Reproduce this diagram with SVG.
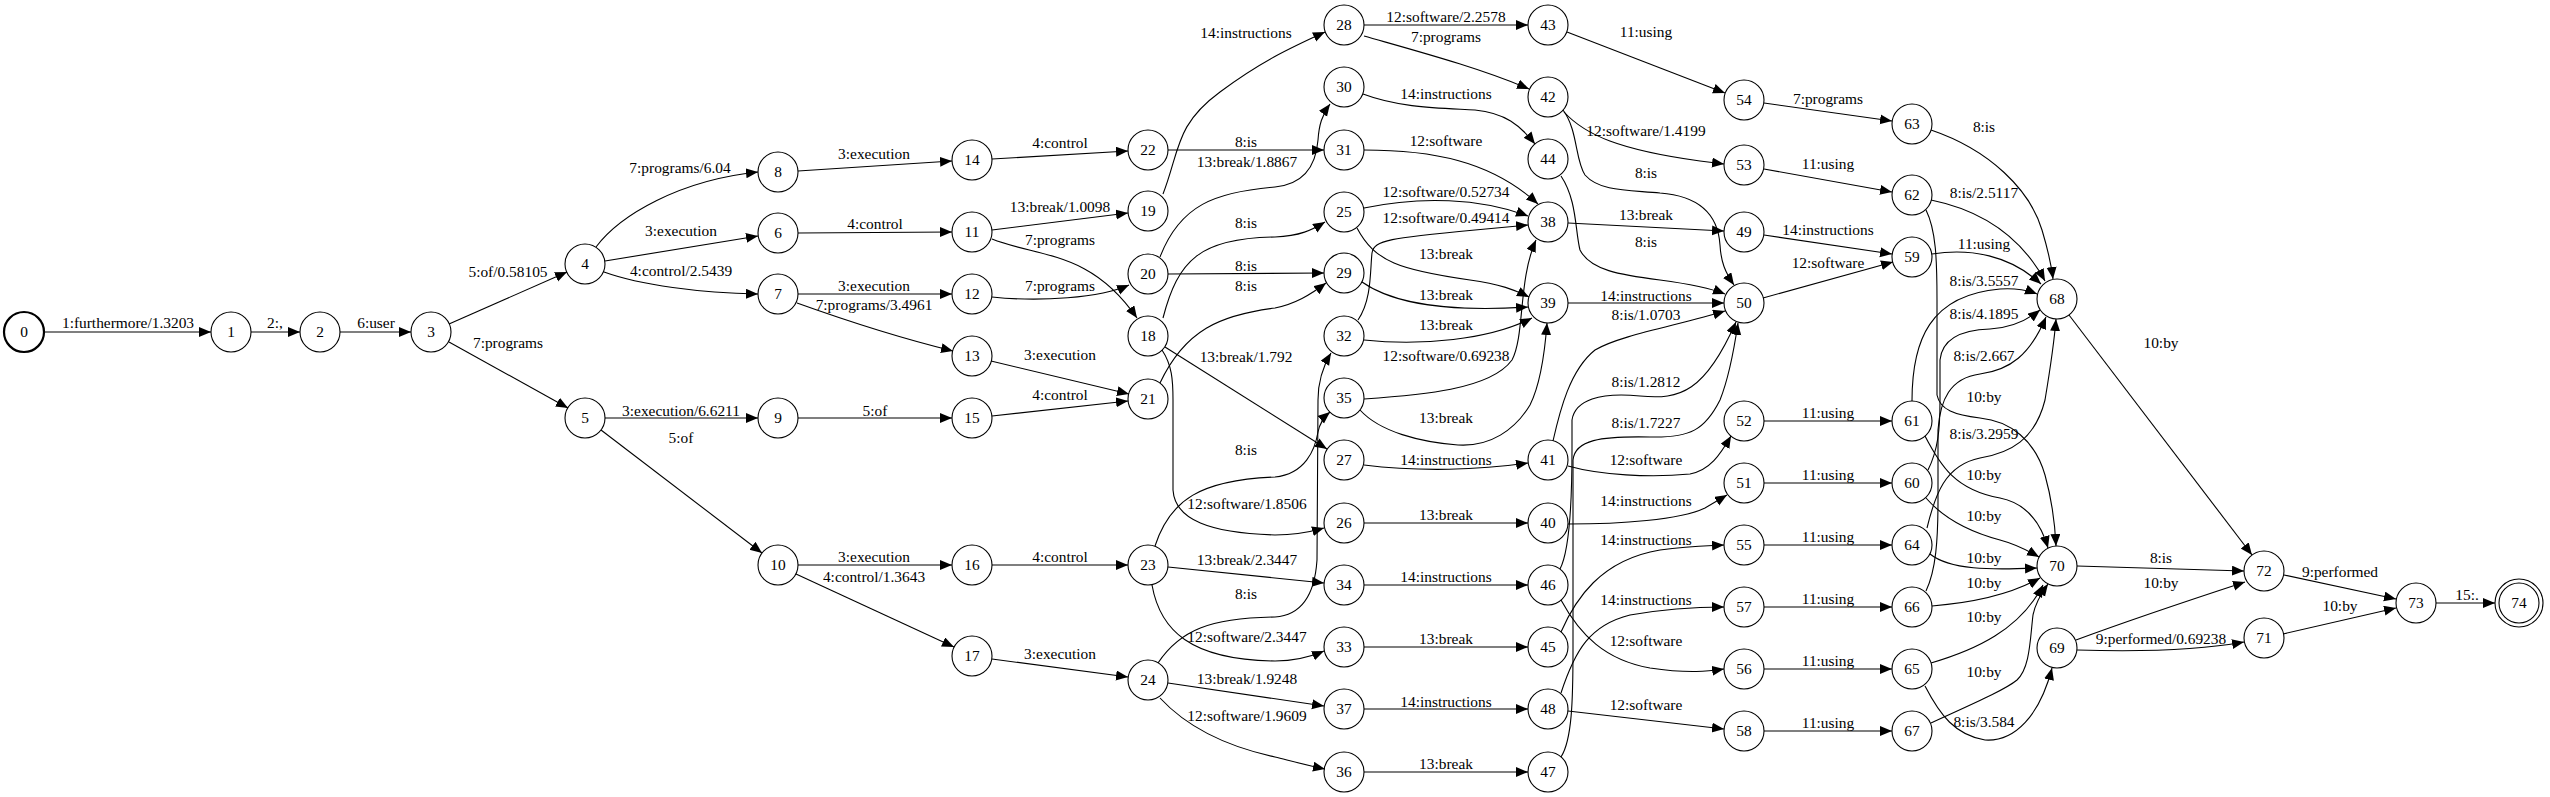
<svg xmlns="http://www.w3.org/2000/svg" width="2550" height="797" viewBox="0 0 2550 797">
<style>
.node circle{fill:none;stroke:#000;stroke-width:1.1}
.node text,.edge text{font-family:"Liberation Serif","Times New Roman",serif;font-size:15.4px;text-anchor:middle;fill:#000}
.edge path{fill:none;stroke:#000;stroke-width:1.1;marker-end:url(#ah)}
</style>
<defs>
<marker id="ah" markerUnits="userSpaceOnUse" markerWidth="13" markerHeight="11" refX="12" refY="5" orient="auto">
<path d="M0,0 L12,5 L0,10 z" fill="#000"/>
</marker>
</defs>
<rect width="2550" height="797" fill="#fff"/>
<g id="edges">
<g class="edge"><path d="M44,332 L211,332"/><text x="128" y="328">1:furthermore/1.3203</text></g>
<g class="edge"><path d="M251,332 L300,332"/><text x="275" y="328">2:,</text></g>
<g class="edge"><path d="M340,332 L411,332"/><text x="376" y="328">6:user</text></g>
<g class="edge"><path d="M449,324 L567,272"/><text x="508" y="277">5:of/0.58105</text></g>
<g class="edge"><path d="M449,342 L568,408"/><text x="508" y="348">7:programs</text></g>
<g class="edge"><path d="M596,247 C620,215 680,180 758,172"/><text x="680" y="173">7:programs/6.04</text></g>
<g class="edge"><path d="M605,261 L758,236"/><text x="681" y="236">3:execution</text></g>
<g class="edge"><path d="M604,272 C640,285 700,293 758,294"/><text x="681" y="276">4:control/2.5439</text></g>
<g class="edge"><path d="M605,418 L758,418"/><text x="681" y="416">3:execution/6.6211</text></g>
<g class="edge"><path d="M601,430 L762,553"/><text x="681" y="443">5:of</text></g>
<g class="edge"><path d="M798,171 L952,161"/><text x="874" y="159">3:execution</text></g>
<g class="edge"><path d="M798,233 L952,232"/><text x="875" y="229">4:control</text></g>
<g class="edge"><path d="M798,294 L952,294"/><text x="874" y="291">3:execution</text></g>
<g class="edge"><path d="M797,303 C850,322 900,338 953,351"/><text x="874" y="310">7:programs/3.4961</text></g>
<g class="edge"><path d="M798,418 L952,418"/><text x="875" y="416">5:of</text></g>
<g class="edge"><path d="M798,565 L952,565"/><text x="874" y="562">3:execution</text></g>
<g class="edge"><path d="M796,574 L954,647"/><text x="874" y="582">4:control/1.3643</text></g>
<g class="edge"><path d="M992,159 L1128,151"/><text x="1060" y="148">4:control</text></g>
<g class="edge"><path d="M992,230 L1128,213"/><text x="1060" y="212">13:break/1.0098</text></g>
<g class="edge"><path d="M992,239 C1040,258 1090,250 1137,318"/><text x="1060" y="245">7:programs</text></g>
<g class="edge"><path d="M992,297 C1040,302 1100,298 1129,285"/><text x="1060" y="291">7:programs</text></g>
<g class="edge"><path d="M991,361 L1129,394"/><text x="1060" y="360">3:execution</text></g>
<g class="edge"><path d="M992,416 L1128,401"/><text x="1060" y="400">4:control</text></g>
<g class="edge"><path d="M992,565 L1128,565"/><text x="1060" y="562">4:control</text></g>
<g class="edge"><path d="M992,659 L1128,677"/><text x="1060" y="659">3:execution</text></g>
<g class="edge"><path d="M1163,194 C1180,150 1175,125 1220,92 C1260,62 1290,48 1325,32"/><text x="1246" y="38">14:instructions</text></g>
<g class="edge"><path d="M1168,150 L1324,150"/><text x="1246" y="147">8:is</text></g>
<g class="edge"><path d="M1160,257 C1180,205 1215,192 1275,187 C1305,184 1316,165 1318,140 C1319,125 1322,115 1330,104"/><text x="1247" y="167">13:break/1.8867</text></g>
<g class="edge"><path d="M1163,318 C1178,260 1200,238 1275,237 C1300,236 1312,230 1325,222"/><text x="1246" y="228">8:is</text></g>
<g class="edge"><path d="M1168,274 L1324,273"/><text x="1246" y="271">8:is</text></g>
<g class="edge"><path d="M1160,383 C1185,330 1220,315 1275,308 C1295,304 1310,295 1326,283"/><text x="1246" y="291">8:is</text></g>
<g class="edge"><path d="M1165,347 L1327,449"/><text x="1246" y="362">13:break/1.792</text></g>
<g class="edge"><path d="M1162,350 C1172,365 1173,380 1173,400 L1173,490 C1175,520 1210,533 1275,535 C1295,535 1310,532 1324,528"/><text x="1247" y="509">12:software/1.8506</text></g>
<g class="edge"><path d="M1155,546 C1170,500 1200,480 1275,477 C1305,474 1315,450 1318,432 C1320,422 1324,417 1330,412"/><text x="1246" y="455">8:is</text></g>
<g class="edge"><path d="M1168,567 L1324,583"/><text x="1247" y="565">13:break/2.3447</text></g>
<g class="edge"><path d="M1152,585 C1160,630 1190,660 1275,661 C1295,661 1310,657 1324,651"/><text x="1247" y="642">12:software/2.3447</text></g>
<g class="edge"><path d="M1158,663 C1180,630 1210,618 1275,617 C1305,615 1315,590 1317,560 L1318,400 C1318,385 1322,368 1331,353"/><text x="1246" y="599">8:is</text></g>
<g class="edge"><path d="M1168,683 L1324,706"/><text x="1247" y="684">13:break/1.9248</text></g>
<g class="edge"><path d="M1160,698 C1185,725 1220,745 1275,757 C1295,762 1310,766 1325,769"/><text x="1247" y="721">12:software/1.9609</text></g>
<g class="edge"><path d="M1364,25 L1528,25"/><text x="1446" y="22">12:software/2.2578</text></g>
<g class="edge"><path d="M1364,36 C1420,52 1480,68 1529,89"/><text x="1446" y="42">7:programs</text></g>
<g class="edge"><path d="M1363,94 C1400,108 1440,108 1475,110 C1505,113 1520,125 1535,144"/><text x="1446" y="99">14:instructions</text></g>
<g class="edge"><path d="M1364,150 C1430,150 1490,160 1538,204"/><text x="1446" y="146">12:software</text></g>
<g class="edge"><path d="M1364,208 C1420,196 1480,198 1528,216"/><text x="1446" y="197">12:software/0.52734</text></g>
<g class="edge"><path d="M1358,320 C1372,300 1370,270 1372,253 C1374,240 1390,238 1475,230 L1528,225"/><text x="1446" y="223">12:software/0.49414</text></g>
<g class="edge"><path d="M1357,228 C1375,262 1400,270 1470,280 C1500,284 1515,290 1529,297"/><text x="1446" y="259">13:break</text></g>
<g class="edge"><path d="M1362,282 C1395,305 1450,312 1528,307"/><text x="1446" y="300">13:break</text></g>
<g class="edge"><path d="M1364,340 C1420,346 1490,340 1532,318"/><text x="1446" y="330">13:break</text></g>
<g class="edge"><path d="M1364,399 C1420,395 1490,390 1512,360 C1525,335 1518,280 1536,240"/><text x="1446" y="361">12:software/0.69238</text></g>
<g class="edge"><path d="M1360,410 C1380,432 1420,442 1458,445 C1490,447 1515,430 1530,405 C1540,385 1545,350 1547,323"/><text x="1446" y="423">13:break</text></g>
<g class="edge"><path d="M1364,465 C1420,472 1480,470 1528,463"/><text x="1446" y="465">14:instructions</text></g>
<g class="edge"><path d="M1364,523 L1528,523"/><text x="1446" y="520">13:break</text></g>
<g class="edge"><path d="M1364,585 L1528,585"/><text x="1446" y="582">14:instructions</text></g>
<g class="edge"><path d="M1364,647 L1528,647"/><text x="1446" y="644">13:break</text></g>
<g class="edge"><path d="M1364,709 L1528,709"/><text x="1446" y="707">14:instructions</text></g>
<g class="edge"><path d="M1364,772 L1528,772"/><text x="1446" y="769">13:break</text></g>
<g class="edge"><path d="M1567,32 L1725,93"/><text x="1646" y="37">11:using</text></g>
<g class="edge"><path d="M1564,112 C1585,135 1620,150 1700,161 L1724,164"/><text x="1646" y="136">12:software/1.4199</text></g>
<g class="edge"><path d="M1563,110 C1578,130 1575,160 1585,175 C1600,192 1630,190 1660,193 C1700,196 1718,215 1720,245 C1721,262 1725,272 1734,285"/><text x="1646" y="178">8:is</text></g>
<g class="edge"><path d="M1568,223 L1724,231"/><text x="1646" y="220">13:break</text></g>
<g class="edge"><path d="M1561,176 C1577,200 1575,230 1580,250 C1590,270 1620,275 1660,280 C1690,284 1710,288 1725,294"/><text x="1646" y="247">8:is</text></g>
<g class="edge"><path d="M1568,303 L1724,303"/><text x="1646" y="301">14:instructions</text></g>
<g class="edge"><path d="M1553,441 C1560,410 1570,370 1595,350 C1620,335 1680,325 1725,311"/><text x="1646" y="320">8:is/1.0703</text></g>
<g class="edge"><path d="M1560,569 C1570,550 1572,500 1572,450 L1572,420 C1575,400 1600,392 1640,396 C1680,400 1705,392 1736,322"/><text x="1646" y="387">8:is/1.2812</text></g>
<g class="edge"><path d="M1561,757 C1572,740 1573,700 1573,650 L1573,460 C1575,440 1600,436 1650,437 C1690,438 1705,430 1720,400 C1728,380 1734,350 1738,323"/><text x="1646" y="428">8:is/1.7227</text></g>
<g class="edge"><path d="M1568,466 C1600,475 1650,478 1690,474 C1710,470 1720,455 1731,436"/><text x="1646" y="465">12:software</text></g>
<g class="edge"><path d="M1568,524 C1620,524 1680,520 1705,508 L1727,495"/><text x="1646" y="506">14:instructions</text></g>
<g class="edge"><path d="M1561,632 C1575,600 1600,560 1660,550 C1690,546 1705,546 1724,545"/><text x="1646" y="545">14:instructions</text></g>
<g class="edge"><path d="M1561,693 C1575,650 1590,625 1630,615 C1670,608 1700,607 1724,607"/><text x="1646" y="605">14:instructions</text></g>
<g class="edge"><path d="M1561,600 C1580,635 1605,660 1650,668 C1690,674 1710,671 1724,669"/><text x="1646" y="646">12:software</text></g>
<g class="edge"><path d="M1568,711 L1724,729"/><text x="1646" y="710">12:software</text></g>
<g class="edge"><path d="M1764,103 L1892,121"/><text x="1828" y="104">7:programs</text></g>
<g class="edge"><path d="M1764,169 L1892,192"/><text x="1828" y="169">11:using</text></g>
<g class="edge"><path d="M1764,235 L1892,254"/><text x="1828" y="235">14:instructions</text></g>
<g class="edge"><path d="M1763,298 L1893,262"/><text x="1828" y="268">12:software</text></g>
<g class="edge"><path d="M1764,421 L1892,421"/><text x="1828" y="418">11:using</text></g>
<g class="edge"><path d="M1764,483 L1892,483"/><text x="1828" y="480">11:using</text></g>
<g class="edge"><path d="M1764,545 L1892,545"/><text x="1828" y="542">11:using</text></g>
<g class="edge"><path d="M1764,607 L1892,607"/><text x="1828" y="604">11:using</text></g>
<g class="edge"><path d="M1764,669 L1892,669"/><text x="1828" y="666">11:using</text></g>
<g class="edge"><path d="M1764,731 L1892,731"/><text x="1828" y="728">11:using</text></g>
<g class="edge"><path d="M1931,130 C1990,150 2030,190 2042,230 C2048,250 2051,262 2053,279"/><text x="1984" y="132">8:is</text></g>
<g class="edge"><path d="M1931,200 C1980,210 2020,235 2045,281"/><text x="1984" y="198">8:is/2.5117</text></g>
<g class="edge"><path d="M1932,254 C1970,248 2010,255 2041,284"/><text x="1984" y="249">11:using</text></g>
<g class="edge"><path d="M1912,401 C1912,340 1930,295 2000,289 C2015,288 2027,290 2037,294"/><text x="1984" y="286">8:is/3.5557</text></g>
<g class="edge"><path d="M1928,470 C1938,450 1940,430 1940,400 L1940,360 C1942,340 1960,330 1990,329 C2010,328 2025,322 2040,310"/><text x="1984" y="319">8:is/4.1895</text></g>
<g class="edge"><path d="M1926,591 C1936,570 1938,540 1938,500 L1938,430 C1940,400 1950,378 1980,374 C2010,370 2030,355 2046,317"/><text x="1984" y="361">8:is/2.667</text></g>
<g class="edge"><path d="M1927,528 C1935,495 1945,465 1980,458 C2010,453 2035,440 2045,400 C2050,370 2054,345 2056,319"/><text x="1984" y="439">8:is/3.2959</text></g>
<g class="edge"><path d="M1926,210 C1936,230 1937,260 1937,300 L1937,395 C1940,410 1955,415 1980,418 C2010,421 2035,440 2045,475 C2052,500 2055,525 2056,546"/><text x="1984" y="402">10:by</text></g>
<g class="edge"><path d="M1925,436 C1940,465 1955,490 2000,498 C2025,503 2040,520 2048,548"/><text x="1984" y="480">10:by</text></g>
<g class="edge"><path d="M1926,498 C1945,520 1970,532 2000,540 C2015,544 2027,550 2039,557"/><text x="1984" y="521">10:by</text></g>
<g class="edge"><path d="M1930,554 C1950,570 1990,570 2037,568"/><text x="1984" y="563">10:by</text></g>
<g class="edge"><path d="M1932,606 C1970,603 2010,595 2040,578"/><text x="1984" y="588">10:by</text></g>
<g class="edge"><path d="M1931,663 C1975,650 2020,630 2043,585"/><text x="1984" y="622">10:by</text></g>
<g class="edge"><path d="M1931,723 C1970,705 2005,690 2017,680 C2030,668 2030,640 2033,615 C2035,605 2040,595 2048,584"/><text x="1984" y="677">10:by</text></g>
<g class="edge"><path d="M1925,686 C1940,715 1955,735 1985,740 C2015,742 2040,715 2052,668"/><text x="1984" y="727">8:is/3.584</text></g>
<g class="edge"><path d="M2069,315 L2252,555"/><text x="2161" y="348">10:by</text></g>
<g class="edge"><path d="M2077,566 L2244,571"/><text x="2161" y="563">8:is</text></g>
<g class="edge"><path d="M2076,640 C2130,620 2190,600 2245,582"/><text x="2161" y="588">10:by</text></g>
<g class="edge"><path d="M2077,650 C2140,652 2200,650 2244,642"/><text x="2161" y="644">9:performed/0.69238</text></g>
<g class="edge"><path d="M2284,575 L2396,599"/><text x="2340" y="577">9:performed</text></g>
<g class="edge"><path d="M2283,634 L2396,608"/><text x="2340" y="611">10:by</text></g>
<g class="edge"><path d="M2436,603 L2495,603"/><text x="2467" y="600">15:.</text></g>
</g>
<g id="nodes">
<g class="node" id="n0"><circle cx="24" cy="332" r="20" style="stroke-width:2.2"/><text x="24" y="337">0</text></g>
<g class="node" id="n1"><circle cx="231" cy="332" r="20"/><text x="231" y="337">1</text></g>
<g class="node" id="n2"><circle cx="320" cy="332" r="20"/><text x="320" y="337">2</text></g>
<g class="node" id="n3"><circle cx="431" cy="332" r="20"/><text x="431" y="337">3</text></g>
<g class="node" id="n4"><circle cx="585" cy="264" r="20"/><text x="585" y="269">4</text></g>
<g class="node" id="n5"><circle cx="585" cy="418" r="20"/><text x="585" y="423">5</text></g>
<g class="node" id="n6"><circle cx="778" cy="233" r="20"/><text x="778" y="238">6</text></g>
<g class="node" id="n7"><circle cx="778" cy="294" r="20"/><text x="778" y="299">7</text></g>
<g class="node" id="n8"><circle cx="778" cy="172" r="20"/><text x="778" y="177">8</text></g>
<g class="node" id="n9"><circle cx="778" cy="418" r="20"/><text x="778" y="423">9</text></g>
<g class="node" id="n10"><circle cx="778" cy="565" r="20"/><text x="778" y="570">10</text></g>
<g class="node" id="n11"><circle cx="972" cy="232" r="20"/><text x="972" y="237">11</text></g>
<g class="node" id="n12"><circle cx="972" cy="294" r="20"/><text x="972" y="299">12</text></g>
<g class="node" id="n13"><circle cx="972" cy="356" r="20"/><text x="972" y="361">13</text></g>
<g class="node" id="n14"><circle cx="972" cy="160" r="20"/><text x="972" y="165">14</text></g>
<g class="node" id="n15"><circle cx="972" cy="418" r="20"/><text x="972" y="423">15</text></g>
<g class="node" id="n16"><circle cx="972" cy="565" r="20"/><text x="972" y="570">16</text></g>
<g class="node" id="n17"><circle cx="972" cy="656" r="20"/><text x="972" y="661">17</text></g>
<g class="node" id="n18"><circle cx="1148" cy="336" r="20"/><text x="1148" y="341">18</text></g>
<g class="node" id="n19"><circle cx="1148" cy="211" r="20"/><text x="1148" y="216">19</text></g>
<g class="node" id="n20"><circle cx="1148" cy="274" r="20"/><text x="1148" y="279">20</text></g>
<g class="node" id="n21"><circle cx="1148" cy="399" r="20"/><text x="1148" y="404">21</text></g>
<g class="node" id="n22"><circle cx="1148" cy="150" r="20"/><text x="1148" y="155">22</text></g>
<g class="node" id="n23"><circle cx="1148" cy="565" r="20"/><text x="1148" y="570">23</text></g>
<g class="node" id="n24"><circle cx="1148" cy="680" r="20"/><text x="1148" y="685">24</text></g>
<g class="node" id="n25"><circle cx="1344" cy="212" r="20"/><text x="1344" y="217">25</text></g>
<g class="node" id="n26"><circle cx="1344" cy="523" r="20"/><text x="1344" y="528">26</text></g>
<g class="node" id="n27"><circle cx="1344" cy="460" r="20"/><text x="1344" y="465">27</text></g>
<g class="node" id="n28"><circle cx="1344" cy="25" r="20"/><text x="1344" y="30">28</text></g>
<g class="node" id="n29"><circle cx="1344" cy="273" r="20"/><text x="1344" y="278">29</text></g>
<g class="node" id="n30"><circle cx="1344" cy="87" r="20"/><text x="1344" y="92">30</text></g>
<g class="node" id="n31"><circle cx="1344" cy="150" r="20"/><text x="1344" y="155">31</text></g>
<g class="node" id="n32"><circle cx="1344" cy="336" r="20"/><text x="1344" y="341">32</text></g>
<g class="node" id="n33"><circle cx="1344" cy="647" r="20"/><text x="1344" y="652">33</text></g>
<g class="node" id="n34"><circle cx="1344" cy="585" r="20"/><text x="1344" y="590">34</text></g>
<g class="node" id="n35"><circle cx="1344" cy="398" r="20"/><text x="1344" y="403">35</text></g>
<g class="node" id="n36"><circle cx="1344" cy="772" r="20"/><text x="1344" y="777">36</text></g>
<g class="node" id="n37"><circle cx="1344" cy="709" r="20"/><text x="1344" y="714">37</text></g>
<g class="node" id="n38"><circle cx="1548" cy="222" r="20"/><text x="1548" y="227">38</text></g>
<g class="node" id="n39"><circle cx="1548" cy="303" r="20"/><text x="1548" y="308">39</text></g>
<g class="node" id="n40"><circle cx="1548" cy="523" r="20"/><text x="1548" y="528">40</text></g>
<g class="node" id="n41"><circle cx="1548" cy="460" r="20"/><text x="1548" y="465">41</text></g>
<g class="node" id="n42"><circle cx="1548" cy="97" r="20"/><text x="1548" y="102">42</text></g>
<g class="node" id="n43"><circle cx="1548" cy="25" r="20"/><text x="1548" y="30">43</text></g>
<g class="node" id="n44"><circle cx="1548" cy="159" r="20"/><text x="1548" y="164">44</text></g>
<g class="node" id="n45"><circle cx="1548" cy="647" r="20"/><text x="1548" y="652">45</text></g>
<g class="node" id="n46"><circle cx="1548" cy="585" r="20"/><text x="1548" y="590">46</text></g>
<g class="node" id="n47"><circle cx="1548" cy="772" r="20"/><text x="1548" y="777">47</text></g>
<g class="node" id="n48"><circle cx="1548" cy="709" r="20"/><text x="1548" y="714">48</text></g>
<g class="node" id="n49"><circle cx="1744" cy="232" r="20"/><text x="1744" y="237">49</text></g>
<g class="node" id="n50"><circle cx="1744" cy="303" r="20"/><text x="1744" y="308">50</text></g>
<g class="node" id="n51"><circle cx="1744" cy="483" r="20"/><text x="1744" y="488">51</text></g>
<g class="node" id="n52"><circle cx="1744" cy="421" r="20"/><text x="1744" y="426">52</text></g>
<g class="node" id="n53"><circle cx="1744" cy="165" r="20"/><text x="1744" y="170">53</text></g>
<g class="node" id="n54"><circle cx="1744" cy="100" r="20"/><text x="1744" y="105">54</text></g>
<g class="node" id="n55"><circle cx="1744" cy="545" r="20"/><text x="1744" y="550">55</text></g>
<g class="node" id="n56"><circle cx="1744" cy="669" r="20"/><text x="1744" y="674">56</text></g>
<g class="node" id="n57"><circle cx="1744" cy="607" r="20"/><text x="1744" y="612">57</text></g>
<g class="node" id="n58"><circle cx="1744" cy="731" r="20"/><text x="1744" y="736">58</text></g>
<g class="node" id="n59"><circle cx="1912" cy="257" r="20"/><text x="1912" y="262">59</text></g>
<g class="node" id="n60"><circle cx="1912" cy="483" r="20"/><text x="1912" y="488">60</text></g>
<g class="node" id="n61"><circle cx="1912" cy="421" r="20"/><text x="1912" y="426">61</text></g>
<g class="node" id="n62"><circle cx="1912" cy="195" r="20"/><text x="1912" y="200">62</text></g>
<g class="node" id="n63"><circle cx="1912" cy="124" r="20"/><text x="1912" y="129">63</text></g>
<g class="node" id="n64"><circle cx="1912" cy="545" r="20"/><text x="1912" y="550">64</text></g>
<g class="node" id="n65"><circle cx="1912" cy="669" r="20"/><text x="1912" y="674">65</text></g>
<g class="node" id="n66"><circle cx="1912" cy="607" r="20"/><text x="1912" y="612">66</text></g>
<g class="node" id="n67"><circle cx="1912" cy="731" r="20"/><text x="1912" y="736">67</text></g>
<g class="node" id="n68"><circle cx="2057" cy="299" r="20"/><text x="2057" y="304">68</text></g>
<g class="node" id="n69"><circle cx="2057" cy="648" r="20"/><text x="2057" y="653">69</text></g>
<g class="node" id="n70"><circle cx="2057" cy="566" r="20"/><text x="2057" y="571">70</text></g>
<g class="node" id="n71"><circle cx="2264" cy="638" r="20"/><text x="2264" y="643">71</text></g>
<g class="node" id="n72"><circle cx="2264" cy="571" r="20"/><text x="2264" y="576">72</text></g>
<g class="node" id="n73"><circle cx="2416" cy="603" r="20"/><text x="2416" y="608">73</text></g>
<g class="node" id="n74"><circle cx="2519" cy="603" r="24"/><circle cx="2519" cy="603" r="20"/><text x="2519" y="608">74</text></g>
</g>
</svg>
